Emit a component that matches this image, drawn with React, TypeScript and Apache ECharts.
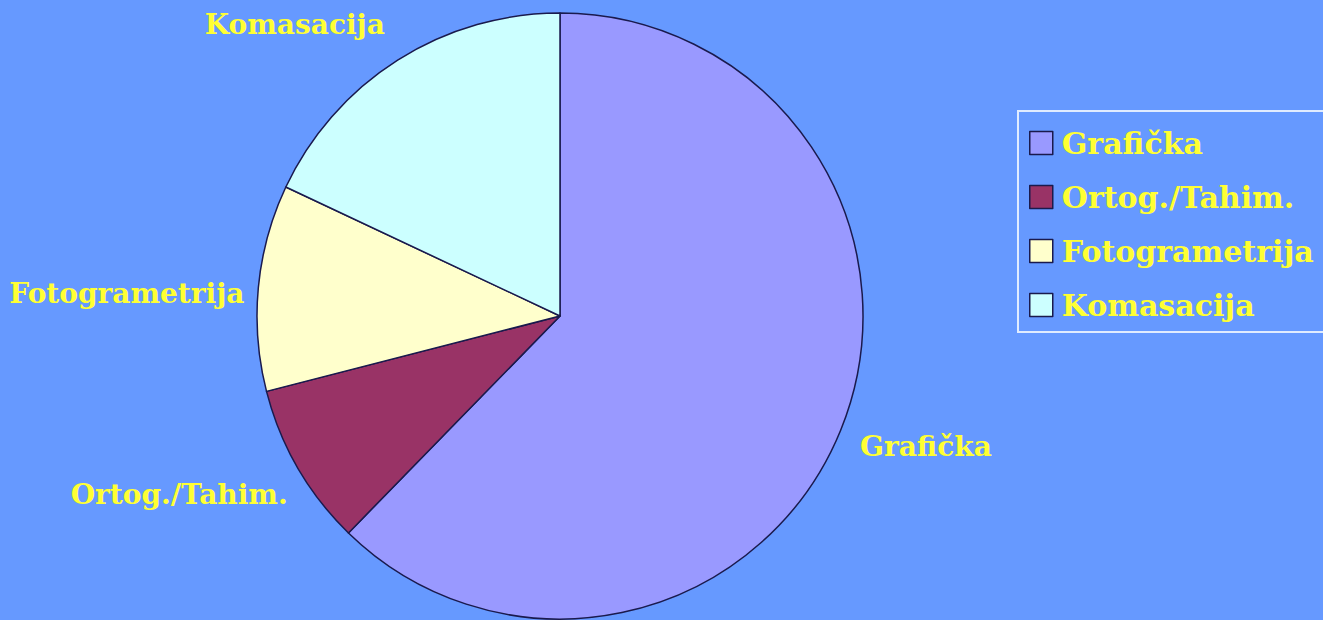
import React, { useEffect, useRef } from "react";
import * as echarts from "echarts";

const categories = ["Grafička", "Ortog./Tahim.", "Fotogrametrija", "Komasacija"];
const values = [62.3, 8.7, 11.0, 18.0];
const colors = ["#9999FF", "#993366", "#FFFFCC", "#CCFFFF"];
const labelShift = [
  [-10, 8],
  [18, 16],
  [17, 8],
  [8, -17],
];

export default function App() {
  const ref = useRef<HTMLDivElement>(null);
  useEffect(() => {
    document.body.style.margin = "0";
    const chart = echarts.init(ref.current!, undefined, { renderer: "svg" });
    chart.setOption({
      animation: false,
      backgroundColor: "#6699FF",
      legend: {
        orient: "vertical",
        left: 1018,
        top: 111,
        padding: [17, 24, 12, 11],
        borderColor: "#E0ECFF",
        borderWidth: 2,
        itemWidth: 23,
        itemHeight: 23,
        itemGap: 24,
        icon: "rect",
        itemStyle: { borderColor: "#1A1A4D", borderWidth: 1.5 },
        textStyle: {
          color: "#FFFF33",
          fontFamily: "'DejaVu Serif', serif",
          fontWeight: "bold",
          fontSize: 30,
          padding: [0, 0, 0, 4],
        },
        data: categories,
      },
      series: [
        {
          type: "pie",
          center: [560, 316],
          radius: 303,
          startAngle: 90,
          clockwise: true,
          avoidLabelOverlap: false,
          itemStyle: { borderColor: "#1A1A4D", borderWidth: 1.5 },
          label: {
            show: true,
            position: "outside",
            color: "#FFFF33",
            fontFamily: "'DejaVu Serif', serif",
            fontWeight: "bold",
            fontSize: 28,
            formatter: "{b}",
          },
          labelLine: { show: false, length: 22, length2: 4 },
          labelLayout: (p: any) => ({
            dx: labelShift[p.dataIndex][0],
            dy: labelShift[p.dataIndex][1],
          }),
          data: categories.map((c, i) => ({
            name: c,
            value: values[i],
            itemStyle: { color: colors[i] },
          })),
        },
      ],
    });
    return () => chart.dispose();
  }, []);
  return <div ref={ref} style={{ width: 1323, height: 620 }} />;
}
